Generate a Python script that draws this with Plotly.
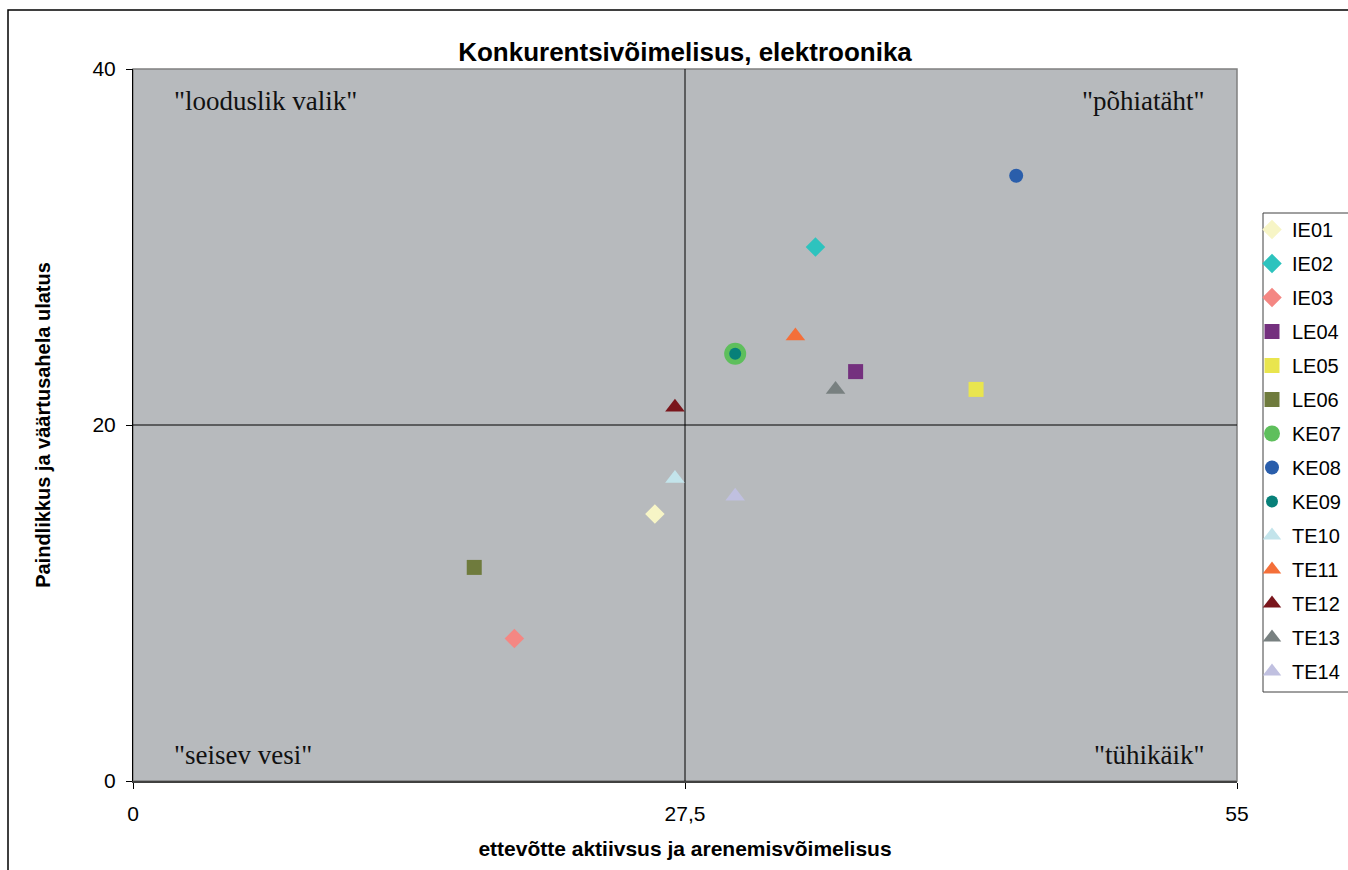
import plotly.graph_objects as go

names = ["IE01", "IE02", "IE03", "LE04", "LE05", "LE06", "KE07", "KE08", "KE09",
         "TE10", "TE11", "TE12", "TE13", "TE14"]
x_vals = [26, 34, 19, 36, 42, 17, 30, 44, 30, 27, 33, 27, 35, 30]
y_vals = [15, 30, 8, 23, 22, 12, 24, 34, 24, 17, 25, 21, 22, 16]
symbols = ["diamond", "diamond", "diamond", "square", "square", "square",
           "circle", "circle", "circle", "triangle-up", "triangle-up",
           "triangle-up", "triangle-up", "triangle-up"]
colors = ["#F7F5C6", "#2DC3BE", "#F48783", "#74307E", "#E9E54E", "#6F7B3D",
          "#5EBF5C", "#2A5EAB", "#078079", "#C3E4EB", "#F46F39", "#7A161C",
          "#788080", "#C0C0E0"]
sizes = [15, 15, 15, 15, 15, 15, 22, 14, 12, 17, 17, 17, 17, 17]

x_ticks = [0, 27.5, 55]
x_ticklabels = ["0", "27,5", "55"]
y_ticks = [0, 20, 40]

FIG_W, FIG_H = 1390, 870
L, T, B = 133, 69, 89
PLOT_RIGHT = 1237
R = FIG_W - PLOT_RIGHT
PW, PH = PLOT_RIGHT - L, FIG_H - B - T


def px_x(p):
    return (p - L) / PW


def px_y(p):
    return (FIG_H - B - p) / PH


fig = go.Figure()
for n, xv, yv, s, c, sz in zip(names, x_vals, y_vals, symbols, colors, sizes):
    fig.add_trace(go.Scatter(
        x=[xv], y=[yv], mode="markers", name=n, legendgroup=n,
        marker=dict(symbol=s, color=c, size=sz, line=dict(width=0)),
    ))

# crosshair lines
fig.add_shape(type="line", xref="x", yref="y", x0=27.5, x1=27.5, y0=0, y1=40,
              line=dict(color="black", width=1), layer="below")
fig.add_shape(type="line", xref="x", yref="y", x0=0, x1=55, y0=20, y1=20,
              line=dict(color="black", width=1), layer="below")
# plot area frame (top/right gray)
fig.add_shape(type="rect", xref="x domain", yref="y domain", x0=0, x1=1, y0=0, y1=1,
              line=dict(color="#808080", width=1.5), layer="below")
# outer chart border
fig.add_shape(type="rect", xref="paper", yref="paper",
              x0=px_x(8), x1=px_x(1375), y0=px_y(885), y1=px_y(10),
              line=dict(color="black", width=1.5))
# legend box frame
fig.add_shape(type="rect", xref="paper", yref="paper",
              x0=px_x(1263), x1=px_x(1370), y0=px_y(692), y1=px_y(213),
              line=dict(color="#404040", width=1), fillcolor="white", layer="below")

serif = "Liberation Serif, Times New Roman, serif"
quad = [
    ('"looduslik valik"', 0.035, 0.955, "left"),
    ('"põhiatäht"', 0.973, 0.955, "right"),
    ('"seisev vesi"', 0.035, 0.037, "left"),
    ('"tühikäik"', 0.973, 0.037, "right"),
]
for t, xa, ya, anc in quad:
    fig.add_annotation(text=t, xref="x domain", yref="y domain", x=xa, y=ya,
                       xanchor=anc, yanchor="middle", showarrow=False,
                       font=dict(family=serif, size=27, color="#111111"))

fig.update_layout(
    width=FIG_W, height=FIG_H,
    margin=dict(l=L, r=R, t=T, b=B),
    paper_bgcolor="white",
    plot_bgcolor="#B7BABD",
    font=dict(family="Arial, Liberation Sans, sans-serif", color="black", size=19),
    title=dict(text="<b>Konkurentsivõimelisus, elektroonika</b>",
               x=(L + PW / 2) / FIG_W, xanchor="center", y=1 - 52 / FIG_H,
               yanchor="middle", font=dict(size=26, color="black")),
    xaxis=dict(range=[0, 55], tickvals=x_ticks, ticktext=x_ticklabels,
               showgrid=False, zeroline=False, showline=True, linecolor="#404040",
               linewidth=2, ticks="outside", ticklen=6, tickcolor="black",
               tickfont=dict(size=21), ticklabelstandoff=7,
               title=dict(text="<b>ettevõtte aktiivsus ja arenemisvõimelisus</b>",
                          font=dict(size=21), standoff=17)),
    yaxis=dict(range=[0, 40], tickvals=y_ticks,
               showgrid=False, zeroline=False, showline=True, linecolor="black",
               linewidth=1, ticks="outside", ticklen=6, tickcolor="black",
               tickfont=dict(size=21), ticklabelstandoff=6,
               title=dict(text="<b>Paindlikkus ja väärtusahela ulatus</b>",
                          font=dict(size=20), standoff=36)),
    legend=dict(x=px_x(1252), y=px_y(210), xanchor="left",
                yanchor="top", bgcolor="rgba(0,0,0,0)", borderwidth=0,
                font=dict(size=20), tracegroupgap=5, itemwidth=30),
    showlegend=True,
)

post = ("document.body.style.margin='0';document.body.style.overflow='hidden';")
fig.write_html("out.html", post_script=post, config={"displayModeBar": False})
